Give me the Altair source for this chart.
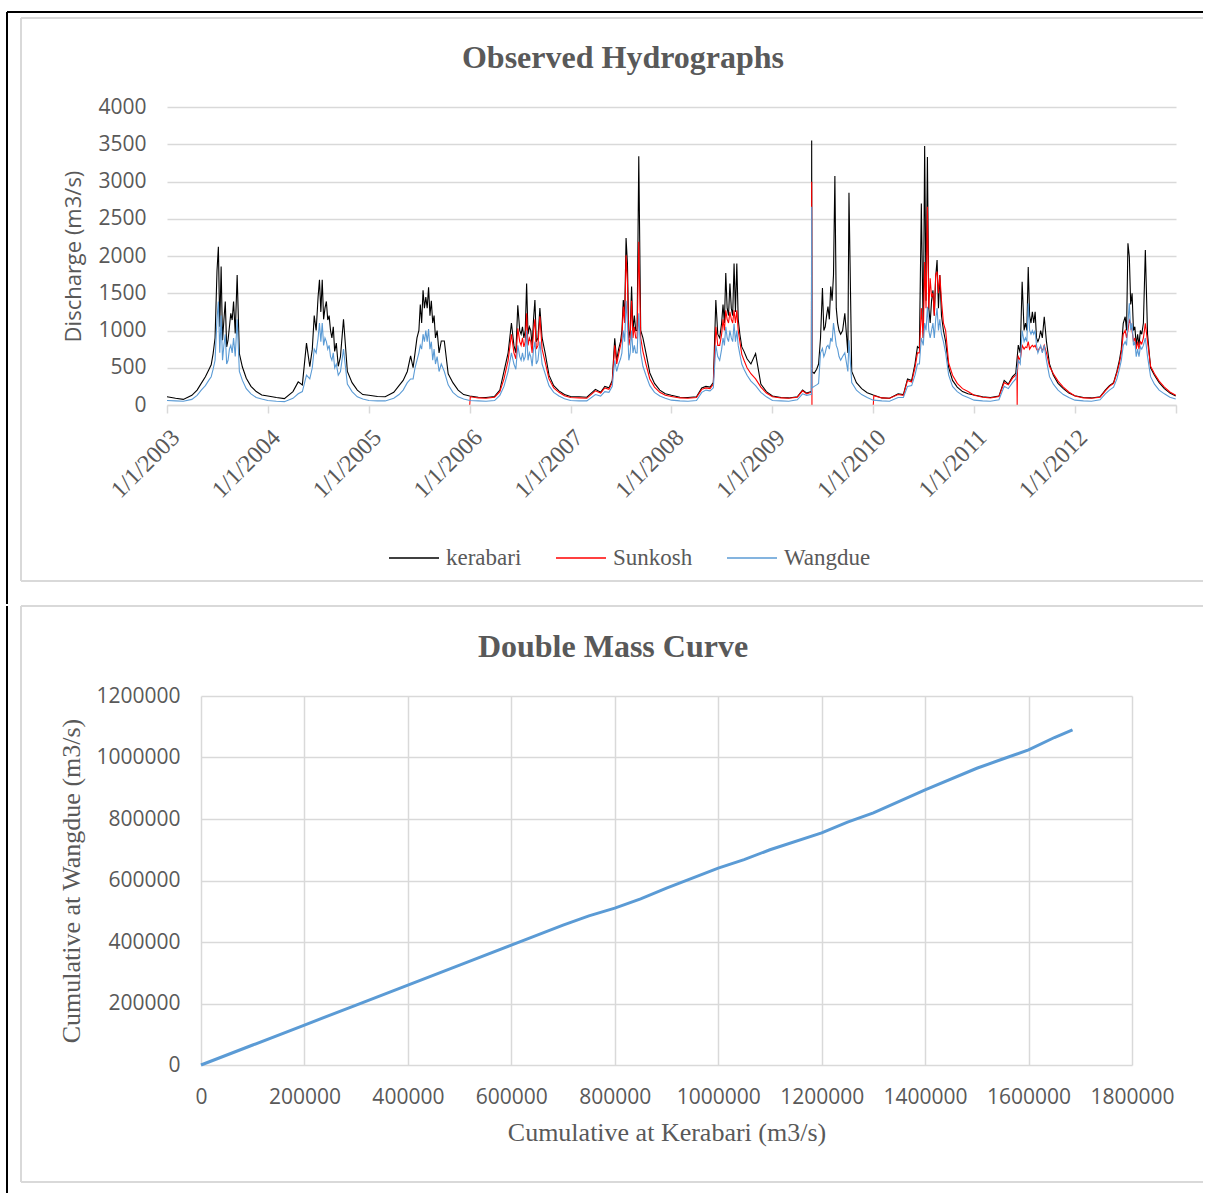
import altair as alt
import pandas as pd

# ---------------- data: observed hydrographs ----------------
template_days = ["01-01", "02-01", "03-01", "04-01", "04-20", "05-05", "05-20", "06-01",
                 "06-10", "06-17", "06-24", "07-01", "07-06", "07-11", "07-16", "07-21",
                 "07-26", "07-31", "08-05", "08-10", "08-15", "08-20", "08-25", "08-30",
                 "09-05", "09-12", "09-20", "10-01", "10-15", "11-01", "11-20", "12-10"]

series_names = ["kerabari", "Sunkosh", "Wangdue"]
series_colors = ["#000000", "#ff0000", "#5b9bd5"]

kerabari_2003 = [110, 90, 75, 130, 200, 290, 380, 470, 540, 690, 900, 1800, 2125, 1050, 1860, 870, 1140, 1390, 780, 870, 1050, 1230, 1140, 1390, 960, 1745, 690, 510, 360, 250, 180, 135]
kerabari_2004 = [120, 100, 85, 180, 310, 270, 830, 514, 750, 1200, 1000, 1450, 1680, 1250, 1680, 1150, 1300, 1390, 1140, 1200, 1000, 900, 1050, 720, 830, 520, 650, 1150, 450, 300, 200, 140]
kerabari_2005 = [130, 115, 110, 170, 260, 330, 450, 660, 500, 700, 900, 1000, 1350, 1100, 1540, 1300, 1450, 1300, 1580, 1200, 1400, 1100, 1200, 900, 1000, 700, 860, 860, 420, 300, 200, 140]
kerabari_2006 = [120, 105, 100, 115, 200, 450, 700, 1100, 800, 700, 1340, 1000, 950, 1050, 900, 1000, 1630, 950, 1050, 1000, 800, 1150, 1410, 850, 900, 1300, 900, 700, 400, 260, 190, 140]
kerabari_2007 = [115, 110, 105, 210, 170, 250, 230, 330, 895, 600, 750, 850, 1000, 1410, 1200, 2240, 1900, 900, 1000, 1590, 1000, 1200, 1000, 1000, 3340, 1000, 900, 700, 430, 290, 200, 150]
kerabari_2008 = [130, 105, 100, 110, 230, 250, 240, 300, 1410, 950, 900, 1100, 1350, 1100, 1770, 1300, 1200, 1630, 1300, 1200, 1900, 1250, 1900, 1150, 950, 780, 720, 620, 550, 690, 280, 180]
kerabari_2009 = [120, 100, 95, 110, 200, 160, 180, 425, 480, 550, 900, 1570, 1000, 1050, 1200, 1320, 1150, 1590, 1400, 1745, 3075, 1300, 1100, 1000, 950, 1000, 1230, 700, 450, 300, 220, 165]
kerabari_2010 = [134, 95, 90, 150, 140, 350, 330, 550, 783, 760, 2705, 900, 3476, 1400, 3330, 1300, 1100, 1400, 1540, 1200, 1723, 1946, 1300, 1745, 1200, 1000, 850, 500, 330, 240, 180, 150]
kerabari_2011 = [135, 110, 100, 120, 330, 280, 380, 425, 805, 700, 1655, 1000, 1100, 1000, 1852, 1200, 1100, 1250, 1100, 1250, 900, 850, 900, 1000, 900, 1185, 850, 550, 400, 290, 220, 160]
kerabari_2012 = [125, 100, 95, 110, 200, 260, 300, 450, 600, 750, 1096, 1185, 1000, 2170, 1990, 1350, 1500, 1000, 1050, 800, 950, 800, 1000, 950, 1100, 2080, 950, 500, 400, 300, 220, 160]

# None = no record (line is broken there)
sunkosh_2006 = [0, 95, 90, 105, 180, 350, 600, 950, 700, 620, 1030, 850, 800, 900, 780, 850, 1230, 800, 900, 850, 700, 1000, 1150, 750, 800, 1190, 750, 580, 350, 230, 170, 125]
sunkosh_2007 = [100, 95, 90, 190, 160, 230, 210, 300, 800, 550, 680, 800, 900, 1320, 1100, 2010, 1650, 800, 900, 1400, 900, 1050, 900, 900, 2190, 900, 720, 550, 350, 240, 170, 130]
sunkosh_2008 = [115, 95, 90, 100, 210, 230, 220, 280, 1050, 800, 800, 950, 1150, 1000, 1270, 1150, 1100, 1250, 1150, 1100, 1270, 1100, 1270, 1000, 850, 680, 600, 500, 420, 350, 240, 160]
sunkosh_2009 = [110, 95, 90, 105, 190, 150, 170, None, None, None, None, None, None, None, None, None, None, None, None, None, None, None, None, None, None, None, None, None, None, None, None, None]
sunkosh_2010 = [0, 95, 90, 140, 130, 330, 310, 500, 700, 700, 1300, 900, 1920, 1300, 2661, 1300, 1700, 1450, 1500, 1200, 1750, 1790, 1500, 1745, 1400, 1100, 1000, 560, 400, 290, 220, 180]
sunkosh_2011 = [130, 105, 95, 115, 300, 270, 360, 400, 650, 600, 800, 750, 780, 770, 850, 750, 780, 800, 780, 800, 750, 720, 760, 780, 720, 800, 700, 520, 420, 320, 240, 175]
sunkosh_2012 = [120, 95, 90, 105, 190, 250, 290, 430, 560, 700, 950, 1000, 900, 1000, 1140, 1100, 1000, 850, 900, 750, 850, 750, 850, 820, 900, 1096, 850, 520, 420, 320, 240, 175]

wangdue_2003 = [60, 55, 50, 75, 130, 200, 260, 330, 380, 480, 600, 1150, 1390, 700, 1200, 600, 800, 950, 550, 600, 750, 800, 700, 900, 650, 1150, 450, 330, 220, 150, 100, 80]
wangdue_2004 = [60, 50, 45, 90, 150, 180, 400, 350, 500, 750, 700, 900, 1100, 850, 1100, 800, 900, 850, 750, 800, 650, 600, 700, 500, 550, 400, 450, 750, 280, 180, 110, 80]
wangdue_2005 = [60, 55, 55, 90, 140, 200, 300, 350, 350, 500, 600, 700, 800, 750, 950, 850, 1000, 850, 1020, 750, 850, 600, 750, 550, 650, 450, 550, 450, 270, 170, 110, 80]
wangdue_2006 = [60, 55, 50, 60, 130, 250, 450, 700, 550, 480, 800, 650, 600, 700, 600, 650, 1000, 600, 700, 650, 520, 750, 850, 550, 600, 850, 550, 420, 260, 170, 120, 85]
wangdue_2007 = [60, 55, 55, 140, 120, 180, 170, 250, 600, 450, 550, 620, 700, 1000, 850, 1400, 1100, 600, 700, 1000, 700, 800, 700, 700, 1230, 700, 520, 400, 260, 170, 120, 90]
wangdue_2008 = [65, 55, 50, 60, 170, 200, 190, 230, 800, 650, 600, 750, 900, 800, 1050, 900, 850, 1000, 900, 850, 1090, 850, 1000, 800, 680, 550, 480, 400, 320, 260, 170, 110]
wangdue_2009 = [60, 55, 50, 70, 150, 130, 140, 250, 270, 290, 700, 760, 650, 700, 780, 800, 750, 900, 850, 1100, 950, 800, 750, 650, 600, 650, 700, 450, 300, 200, 140, 100]
wangdue_2010 = [65, 55, 50, 100, 100, 250, 260, 400, 550, 550, 900, 800, 1100, 1000, 1320, 1000, 900, 1000, 1100, 900, 1150, 1300, 1000, 1150, 950, 850, 700, 400, 250, 180, 130, 100]
wangdue_2011 = [65, 55, 50, 70, 250, 220, 300, 350, 600, 550, 1000, 850, 900, 850, 1364, 1000, 950, 1000, 950, 1000, 800, 700, 750, 800, 700, 800, 600, 380, 280, 200, 140, 100]
wangdue_2012 = [65, 55, 50, 70, 150, 200, 240, 350, 480, 600, 800, 850, 800, 1100, 1364, 1000, 1100, 800, 850, 650, 750, 650, 780, 750, 800, 900, 650, 380, 280, 200, 150, 105]

# single-day spikes / drops
kerabari_extra_dates = ["2009-05-22", "2009-05-23", "2009-05-24", "2009-10-05", "2012-12-31"]
kerabari_extra_values = [170, 3550, 450, 2850, 120]
sunkosh_extra_dates = ["2006-01-03", "2009-05-22", "2009-05-23", "2009-05-24", "2010-01-03",
                       "2011-06-05", "2011-06-06", "2011-06-07", "2012-12-31"]
sunkosh_extra_values = [110, 160, 2995, 0, 125, 430, 0, 450, 130]
wangdue_extra_dates = ["2009-05-22", "2009-05-23", "2009-05-24", "2009-10-05", "2012-12-31"]
wangdue_extra_values = [140, 2660, 230, 870, 80]

# ---------------- data: double mass curve ----------------
cum_kerabari = [0, 100000, 200000, 300000, 400000, 500000, 600000, 700000, 750000, 800000,
                850000, 900000, 1000000, 1050000, 1100000, 1200000, 1250000, 1300000,
                1400000, 1500000, 1550000, 1600000, 1650000, 1685000]
cum_wangdue = [0, 65000, 130000, 195000, 260000, 325000, 390000, 455000, 485000, 510000,
               540000, 575000, 640000, 668000, 700000, 755000, 790000, 820000,
               895000, 965000, 995000, 1025000, 1065000, 1090000]

y_ticks_top = [0, 500, 1000, 1500, 2000, 2500, 3000, 3500, 4000]
x_ticks_dm = [0, 200000, 400000, 600000, 800000, 1000000, 1200000, 1400000, 1600000, 1800000]
y_ticks_dm = [0, 200000, 400000, 600000, 800000, 1000000, 1200000]

# ---------------- build tables ----------------
kerabari = {2003: kerabari_2003, 2004: kerabari_2004, 2005: kerabari_2005, 2006: kerabari_2006,
            2007: kerabari_2007, 2008: kerabari_2008, 2009: kerabari_2009, 2010: kerabari_2010,
            2011: kerabari_2011, 2012: kerabari_2012}
sunkosh = {2006: sunkosh_2006, 2007: sunkosh_2007, 2008: sunkosh_2008, 2009: sunkosh_2009,
           2010: sunkosh_2010, 2011: sunkosh_2011, 2012: sunkosh_2012}
wangdue = {2003: wangdue_2003, 2004: wangdue_2004, 2005: wangdue_2005, 2006: wangdue_2006,
           2007: wangdue_2007, 2008: wangdue_2008, 2009: wangdue_2009, 2010: wangdue_2010,
           2011: wangdue_2011, 2012: wangdue_2012}


def series_rows(name, table, ex_d, ex_v):
    rows = []
    for yr, vals in table.items():
        for md, v in zip(template_days, vals):
            rows.append({"date": f"{yr}-{md}", "series": name, "q": v})
    for d, v in zip(ex_d, ex_v):
        rows.append({"date": d, "series": name, "q": v})
    rows.sort(key=lambda r: r["date"])
    return rows


k_rows = series_rows("kerabari", kerabari, kerabari_extra_dates, kerabari_extra_values)
s_rows = series_rows("Sunkosh", sunkosh, sunkosh_extra_dates, sunkosh_extra_values)
w_rows = series_rows("Wangdue", wangdue, wangdue_extra_dates, wangdue_extra_values)

dm = pd.DataFrame({"ck": cum_kerabari, "cw": cum_wangdue})

GRAY_TXT = "#595959"
GRID = "#d9d9d9"
SERIF = "Liberation Serif"
SANS = "Open Sans"

one = alt.Data(values=[{}])

# ---------------- top panel ----------------
# plot area origin on page: (167, 107)
TX, TY = 167, 107
top_frames = [
    alt.Chart(one).mark_rule(color=GRID, strokeWidth=2).encode(
        x=alt.value(21 - TX), x2=alt.value(1203 - TX), y=alt.value(18 - TY)),
    alt.Chart(one).mark_rule(color=GRID, strokeWidth=2).encode(
        x=alt.value(21 - TX), x2=alt.value(1203 - TX), y=alt.value(581 - TY)),
    alt.Chart(one).mark_rule(color=GRID, strokeWidth=2).encode(
        x=alt.value(21 - TX), y=alt.value(18 - TY), y2=alt.value(581 - TY)),
    alt.Chart(one).mark_rule(color="#000000", strokeWidth=2).encode(
        x=alt.value(7 - TX), x2=alt.value(1203 - TX), y=alt.value(12 - TY)),
    alt.Chart(one).mark_rule(color="#000000", strokeWidth=2).encode(
        x=alt.value(7 - TX), y=alt.value(12 - TY), y2=alt.value(604 - TY)),
    alt.Chart(one).mark_text(font=SERIF, fontSize=32, fontWeight="bold", color=GRAY_TXT,
                             align="center", baseline="alphabetic").encode(
        x=alt.value(623 - TX), y=alt.value(68 - TY), text=alt.value("Observed Hydrographs")),
]

year_ticks = [alt.DateTime(year=y, month=1, date=1, utc=True) for y in range(2003, 2014)]

x_top = alt.X("date:T",
              scale=alt.Scale(type="utc", domain=[alt.DateTime(year=2003, month=1, date=1, utc=True),
                                                  alt.DateTime(year=2013, month=1, date=1, utc=True)]),
              axis=alt.Axis(values=year_ticks,
                            labelExpr="utcyear(datum.value) >= 2013 ? '' : utcFormat(datum.value, '%-m/%-d/%Y')",
                            labelAngle=-45, labelFont=SERIF, labelFontSize=24, labelColor=GRAY_TXT,
                            labelPadding=12, grid=False, domainColor=GRID, domainWidth=1.5,
                            tickColor=GRID, tickSize=8, tickWidth=1.5, zindex=1),
              title=None)
y_top = alt.Y("q:Q", scale=alt.Scale(domain=[0, 4000]),
              axis=alt.Axis(values=y_ticks_top, format="d", labelFont=SANS, labelFontSize=21,
                            labelColor=GRAY_TXT, labelPadding=21, ticks=False, domain=False,
                            gridColor=GRID, gridWidth=1.5, titleFont=SANS, titleFontSize=22,
                            titleFontWeight="normal", titleColor=GRAY_TXT, titlePadding=12),
              title="Discharge (m3/s)")
color_top = alt.Color("series:N",
                      scale=alt.Scale(domain=series_names, range=series_colors),
                      legend=alt.Legend(title=None, orient="none", legendX=221, legendY=425,
                                        direction="horizontal", symbolType="stroke", symbolSize=2500,
                                        symbolStrokeWidth=1.5, labelFont=SERIF, labelFontSize=23,
                                        labelColor=GRAY_TXT, labelOffset=6, columnPadding=31))

line_layers = [
    alt.Chart(alt.Data(values=rows)).mark_line(strokeWidth=1.1).encode(x=x_top, y=y_top, color=color_top)
    for rows in (k_rows, s_rows, w_rows)
]

top = alt.layer(*top_frames, *line_layers).properties(width=1009, height=298)

# ---------------- bottom panel ----------------
# the stacked panels share one left origin (page x 167); the bottom plot area itself
# starts 34 px further right (page x 201), so its x range starts at 34 and its y axis
# is moved in by the same amount.
BX, BY = 167, 696
SHIFT = 34
bot_frames = [
    alt.Chart(one).mark_rule(color=GRID, strokeWidth=2).encode(
        x=alt.value(21 - BX), x2=alt.value(1203 - BX), y=alt.value(606 - BY)),
    alt.Chart(one).mark_rule(color=GRID, strokeWidth=2).encode(
        x=alt.value(21 - BX), x2=alt.value(1203 - BX), y=alt.value(1182 - BY)),
    alt.Chart(one).mark_rule(color=GRID, strokeWidth=2).encode(
        x=alt.value(21 - BX), y=alt.value(606 - BY), y2=alt.value(1182 - BY)),
    alt.Chart(one).mark_rule(color="#000000", strokeWidth=2).encode(
        x=alt.value(7 - BX), y=alt.value(606 - BY), y2=alt.value(1193 - BY)),
    alt.Chart(one).mark_text(font=SERIF, fontSize=32, fontWeight="bold", color=GRAY_TXT,
                             align="center", baseline="alphabetic").encode(
        x=alt.value(613 - BX), y=alt.value(657 - BY), text=alt.value("Double Mass Curve")),
]

dm_line = alt.Chart(dm).mark_line(color="#5b9bd5", strokeWidth=3).encode(
    x=alt.X("ck:Q", scale=alt.Scale(domain=[0, 1800000], range=[SHIFT, 1132 - BX]),
            axis=alt.Axis(values=x_ticks_dm, format="d", labelFont=SANS, labelFontSize=21,
                          labelColor=GRAY_TXT, labelPadding=21, labelOverlap=False,
                          labelFlush=False, ticks=False, domain=False, gridColor=GRID,
                          gridWidth=1.5, titleFont=SERIF, titleFontSize=26,
                          titleFontWeight="normal", titleColor=GRAY_TXT, titlePadding=12),
            title="Cumulative at Kerabari (m3/s)"),
    y=alt.Y("cw:Q", scale=alt.Scale(domain=[0, 1200000]),
            axis=alt.Axis(values=y_ticks_dm, format="d", offset=-SHIFT, labelFont=SANS,
                          labelFontSize=21, labelColor=GRAY_TXT, labelPadding=21,
                          labelOverlap=False, labelFlush=False, ticks=False, domain=False,
                          gridColor=GRID, gridWidth=1.5, titleFont=SERIF, titleFontSize=26,
                          titleFontWeight="normal", titleColor=GRAY_TXT, titlePadding=11),
            title="Cumulative at Wangdue (m3/s)"),
)

bottom = alt.layer(*bot_frames, dm_line).properties(width=1132 - BX, height=369)

chart = alt.vconcat(top, bottom, spacing=0).properties(
    padding={"left": 6, "top": 11, "right": 0, "bottom": 0},
    background="white",
).configure_view(strokeWidth=0)

chart.save("out.html", embed_options={"renderer": "svg", "actions": False})
